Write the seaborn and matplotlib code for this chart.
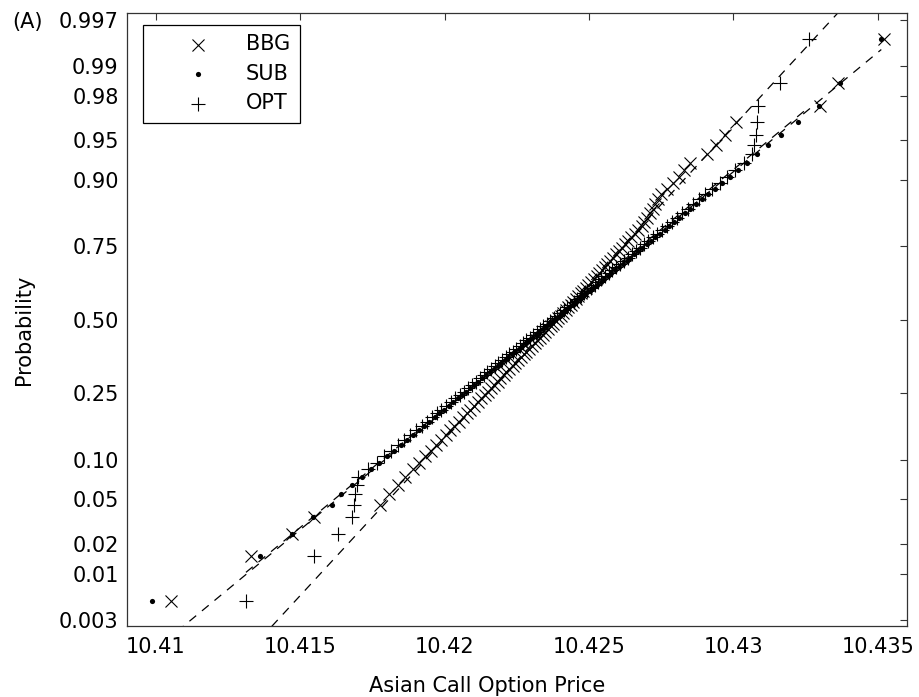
from statistics import NormalDist

import numpy as np
import matplotlib
matplotlib.use("Agg")
import matplotlib.pyplot as plt
import seaborn as sns

# sorted samples (100 per method)
bbg = [10.41054, 10.41330, 10.41472, 10.41549, 10.41775, 10.41807, 10.41837, 10.41864, 10.41889, 10.41911,
       10.41932, 10.41952, 10.41970, 10.41987, 10.42004, 10.42020, 10.42034, 10.42049, 10.42063, 10.42076,
       10.42089, 10.42102, 10.42114, 10.42126, 10.42138, 10.42149, 10.42161, 10.42172, 10.42183, 10.42193,
       10.42204, 10.42214, 10.42224, 10.42235, 10.42244, 10.42254, 10.42264, 10.42274, 10.42283, 10.42293,
       10.42302, 10.42312, 10.42321, 10.42330, 10.42340, 10.42349, 10.42358, 10.42367, 10.42376, 10.42385,
       10.42394, 10.42403, 10.42411, 10.42420, 10.42428, 10.42437, 10.42446, 10.42454, 10.42463, 10.42472,
       10.42480, 10.42489, 10.42498, 10.42507, 10.42516, 10.42526, 10.42535, 10.42544, 10.42554, 10.42563,
       10.42573, 10.42583, 10.42593, 10.42604, 10.42614, 10.42625, 10.42635, 10.42647, 10.42658, 10.42670,
       10.42682, 10.42690, 10.42700, 10.42710, 10.42720, 10.42730, 10.42740, 10.42750, 10.42770, 10.42790,
       10.42810, 10.42830, 10.42850, 10.42910, 10.42940, 10.42970, 10.43010, 10.43299, 10.43362, 10.43520]

sub = [10.40986, 10.41360, 10.41472, 10.41545, 10.41610, 10.41640, 10.41679, 10.41713, 10.41745, 10.41773,
       10.41799, 10.41824, 10.41848, 10.41869, 10.41890, 10.41910, 10.41929, 10.41947, 10.41965, 10.41982,
       10.41998, 10.42015, 10.42030, 10.42046, 10.42061, 10.42075, 10.42089, 10.42103, 10.42117, 10.42130,
       10.42144, 10.42157, 10.42170, 10.42183, 10.42195, 10.42208, 10.42220, 10.42232, 10.42245, 10.42257,
       10.42269, 10.42280, 10.42292, 10.42304, 10.42316, 10.42328, 10.42339, 10.42351, 10.42362, 10.42374,
       10.42386, 10.42398, 10.42409, 10.42421, 10.42432, 10.42444, 10.42456, 10.42468, 10.42480, 10.42491,
       10.42503, 10.42515, 10.42528, 10.42540, 10.42552, 10.42565, 10.42577, 10.42590, 10.42603, 10.42616,
       10.42630, 10.42643, 10.42657, 10.42671, 10.42685, 10.42699, 10.42714, 10.42730, 10.42745, 10.42762,
       10.42778, 10.42795, 10.42813, 10.42831, 10.42850, 10.42870, 10.42891, 10.42912, 10.42936, 10.42961,
       10.42987, 10.43015, 10.43047, 10.43081, 10.43120, 10.43165, 10.43225, 10.43295, 10.43370, 10.43512]

opt = [10.41312, 10.41549, 10.41630, 10.41680, 10.41685, 10.41690, 10.41695, 10.41700, 10.41736, 10.41764,
       10.41790, 10.41815, 10.41839, 10.41860, 10.41881, 10.41901, 10.41920, 10.41938, 10.41956, 10.41973,
       10.41989, 10.42006, 10.42021, 10.42037, 10.42052, 10.42066, 10.42080, 10.42094, 10.42108, 10.42121,
       10.42135, 10.42148, 10.42161, 10.42174, 10.42186, 10.42199, 10.42211, 10.42223, 10.42236, 10.42248,
       10.42260, 10.42271, 10.42283, 10.42295, 10.42307, 10.42319, 10.42330, 10.42342, 10.42353, 10.42365,
       10.42377, 10.42389, 10.42400, 10.42412, 10.42423, 10.42435, 10.42447, 10.42459, 10.42471, 10.42482,
       10.42494, 10.42506, 10.42519, 10.42531, 10.42543, 10.42556, 10.42568, 10.42581, 10.42594, 10.42607,
       10.42621, 10.42634, 10.42648, 10.42662, 10.42676, 10.42690, 10.42705, 10.42721, 10.42736, 10.42753,
       10.42769, 10.42786, 10.42804, 10.42822, 10.42841, 10.42861, 10.42882, 10.42903, 10.42927, 10.42952,
       10.42978, 10.43006, 10.43038, 10.43065, 10.43072, 10.43077, 10.43081, 10.43085, 10.43160, 10.43261]

series_names = ["BBG", "SUB", "OPT"]
series_markers = ["x", "o", "+"]

prob_ticks = [0.003, 0.01, 0.02, 0.05, 0.10, 0.25, 0.50, 0.75, 0.90, 0.95, 0.98, 0.99, 0.997]
prob_labels = ["0.003", "0.01", "0.02", "0.05", "0.10", "0.25", "0.50",
               "0.75", "0.90", "0.95", "0.98", "0.99", "0.997"]
price_ticks = [10.41, 10.415, 10.42, 10.425, 10.43, 10.435]
price_labels = ["10.41", "10.415", "10.42", "10.425", "10.43", "10.435"]

nd = NormalDist()
_ppf = np.vectorize(nd.inv_cdf, otypes=[float])
_cdf = np.vectorize(nd.cdf, otypes=[float])


def prob_to_z(p):
    p = np.clip(np.asarray(p, dtype=float), 1e-12, 1 - 1e-12)
    return _ppf(p)


def z_to_prob(z):
    return _cdf(np.asarray(z, dtype=float))


sns.set_style("white")
plt.rcParams["font.family"] = ["DejaVu Sans"]
plt.rcParams["font.size"] = 15
plt.rcParams["text.color"] = "black"
plt.rcParams["axes.labelcolor"] = "black"
plt.rcParams["xtick.color"] = "black"
plt.rcParams["ytick.color"] = "black"

fig = plt.figure(figsize=(9.2, 6.97), dpi=100)
ax = fig.add_axes([127 / 920, 71 / 697, 779.7 / 920, 612.7 / 697])
ax.set_yscale("function", functions=(prob_to_z, z_to_prob))

sizes = {"x": 75, "o": 14, "+": 90}
for name, mk, vals in zip(series_names, series_markers, [bbg, sub, opt]):
    x = np.sort(np.array(vals))
    n = len(x)
    p = (np.arange(1, n + 1) - 0.5) / n
    lw = 0 if mk == "o" else 0.8
    sns.scatterplot(x=x, y=p, marker=mk, color="black", s=sizes[mk],
                    linewidth=lw, ax=ax, label=name, zorder=3)
    # reference line through the quartiles, extended over the sample range
    q1, q3 = np.percentile(x, [25, 75])
    z1, z3 = nd.inv_cdf(0.25), nd.inv_cdf(0.75)
    xs = np.array([x.min(), x.max()])
    zs = z1 + (xs - q1) * (z3 - z1) / (q3 - q1)
    ax.plot(xs, z_to_prob(zs), color="black", lw=0.9, ls=(0, (7, 6)), zorder=2)

ax.set_xlim(10.4090, 10.4360)
ax.set_ylim(0.0025, 0.9975)
ax.set_yticks(prob_ticks)
ax.set_yticklabels(prob_labels)
ax.set_xticks(price_ticks)
ax.set_xticklabels(price_labels)
ax.minorticks_off()

for sp in ax.spines.values():
    sp.set_color("#333333")
    sp.set_linewidth(0.9)
ax.tick_params(axis="both", direction="in", top=True, right=True,
               length=5, width=0.8, color="#333333", labelsize=15,
               labelcolor="black")
ax.tick_params(axis="x", pad=8)
ax.tick_params(axis="y", pad=6)

ax.set_xlabel("Asian Call Option Price", fontsize=15)
ax.xaxis.set_label_coords(0.4617, -0.082)
ax.set_ylabel("Probability", fontsize=15)
ax.yaxis.set_label_coords(-0.119, 0.483)

leg = ax.legend(loc="upper left", bbox_to_anchor=(16 / 779.7, 1 - 11.7 / 612.7),
                borderaxespad=0, fancybox=False, framealpha=1, edgecolor="black",
                handlelength=4.4, handletextpad=0.1, borderpad=0.45,
                labelspacing=0.45, fontsize=15, scatterpoints=1)
leg.get_frame().set_linewidth(0.9)

fig.text(12 / 920, 1 - 28 / 697, "(A)", fontsize=15, va="baseline", ha="left")

fig.savefig("out.png", dpi=100)
